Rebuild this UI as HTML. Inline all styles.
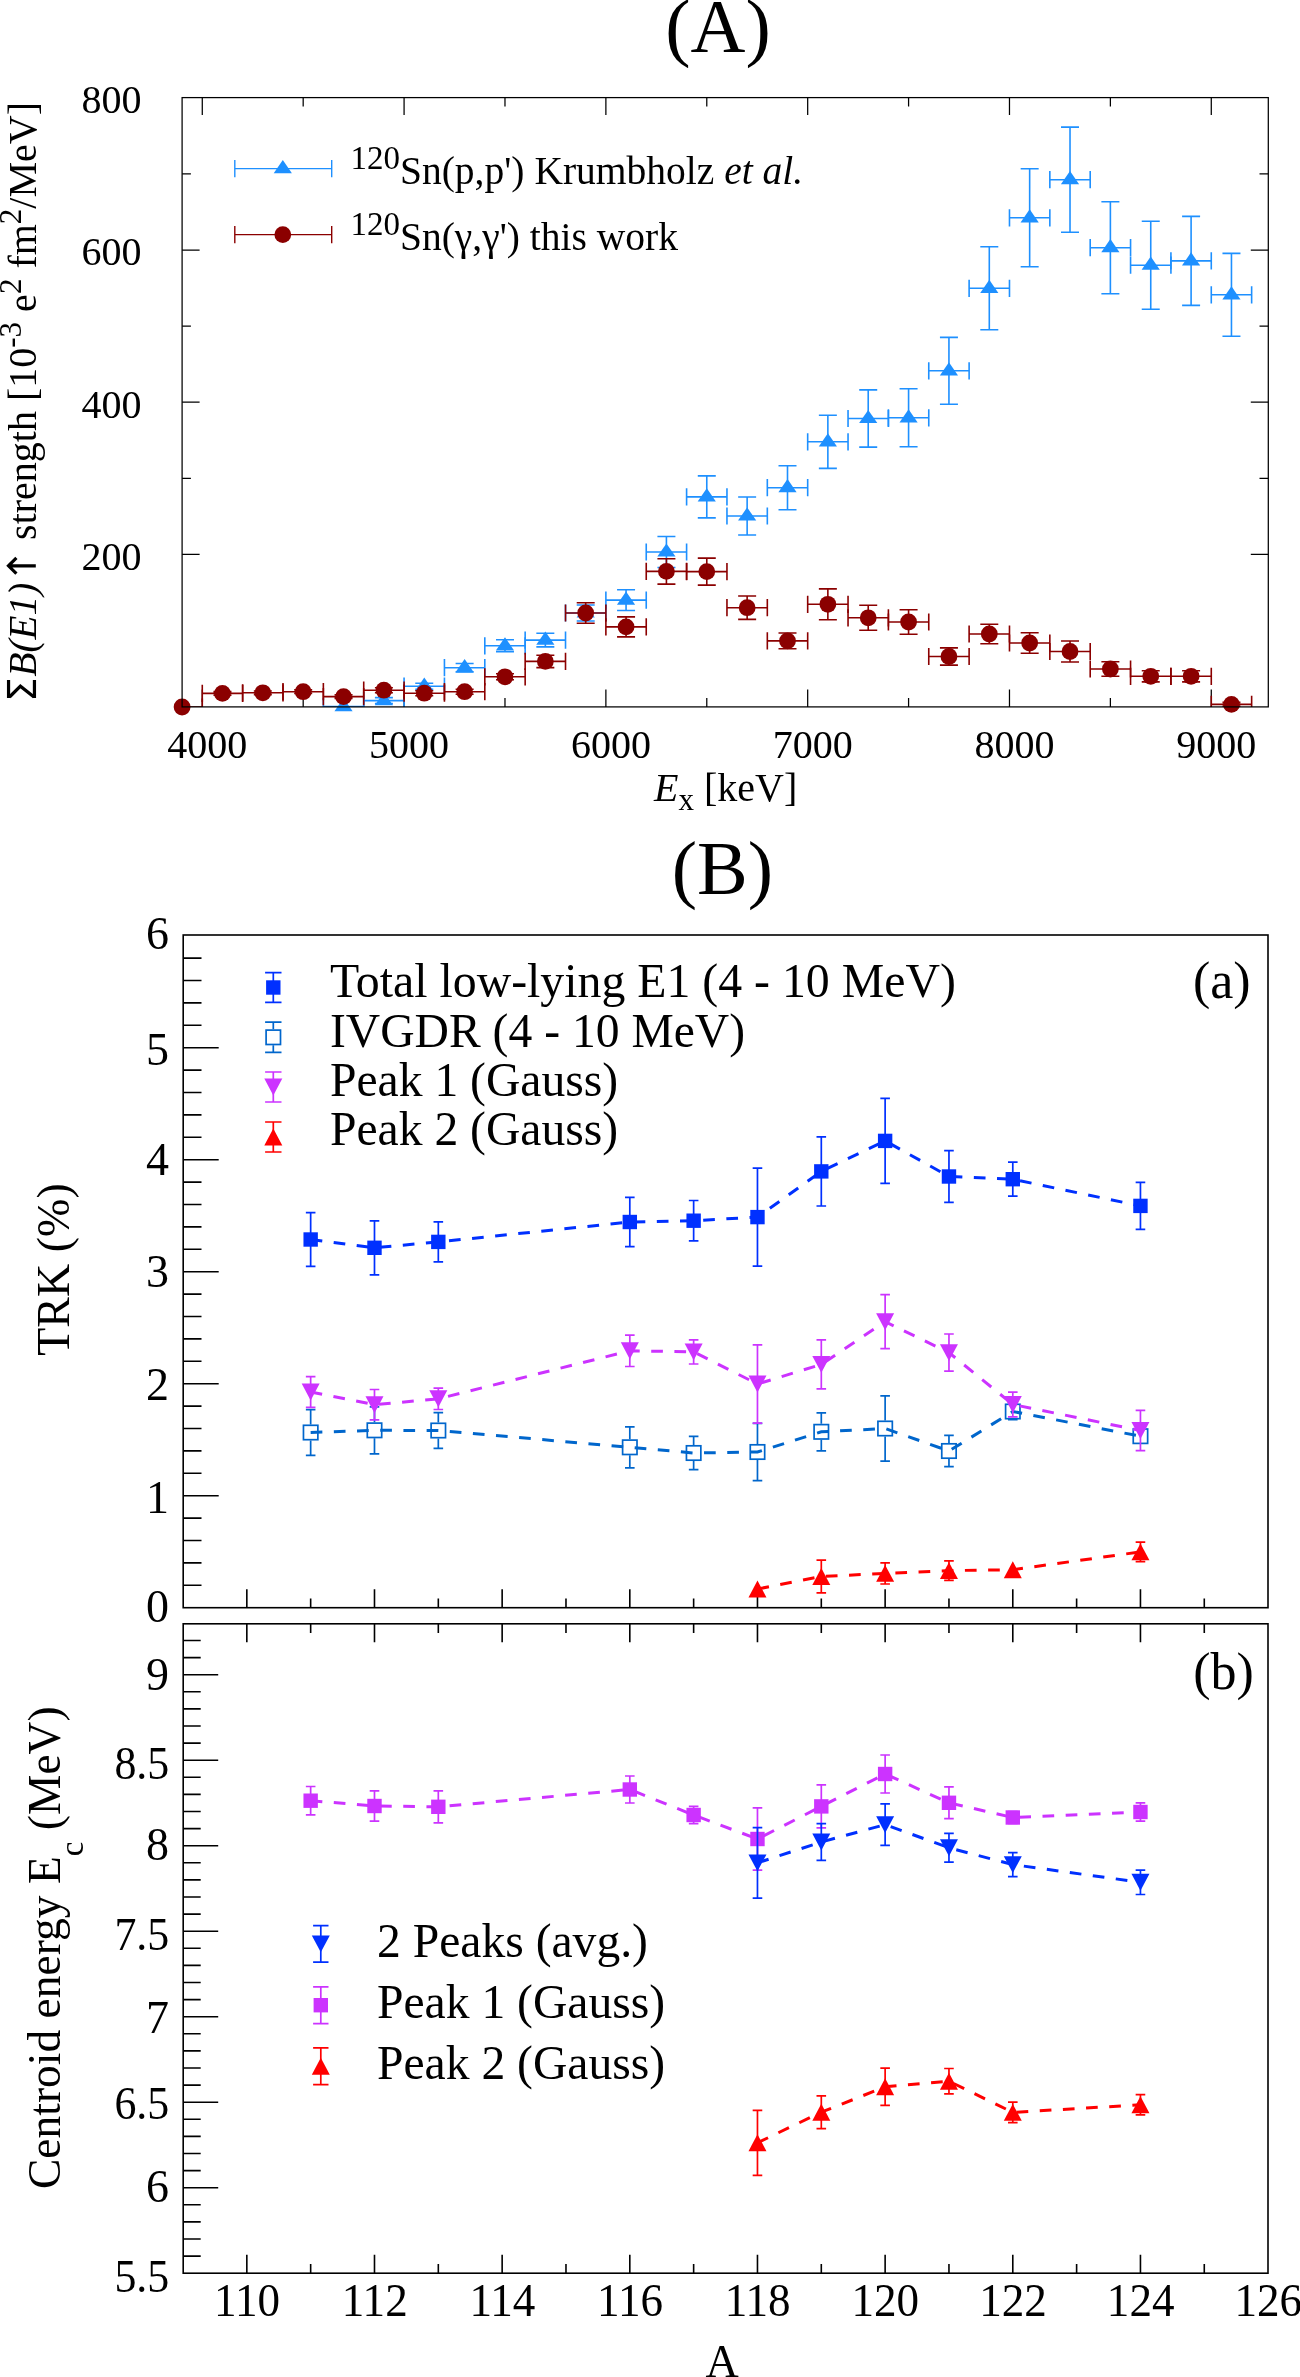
<!DOCTYPE html>
<html><head><meta charset="utf-8"><title>Figure</title>
<style>html,body{margin:0;padding:0;background:#fff;}svg{display:block;will-change:transform;}text{font-family:"Liberation Serif", serif;fill:#000;}</style>
</head><body>
<svg width="1300" height="2377" viewBox="0 0 1300 2377">
<rect width="1300" height="2377" fill="#fff"/>
<path d="M202.28 706.9V689.4M202.28 97.6V115.1M303.18 706.9V698.1M303.18 97.6V106.4M404.08 706.9V689.4M404.08 97.6V115.1M504.98 706.9V698.1M504.98 97.6V106.4M605.88 706.9V689.4M605.88 97.6V115.1M706.78 706.9V698.1M706.78 97.6V106.4M807.68 706.9V689.4M807.68 97.6V115.1M908.58 706.9V698.1M908.58 97.6V106.4M1009.48 706.9V689.4M1009.48 97.6V115.1M1110.38 706.9V698.1M1110.38 97.6V106.4M1211.28 706.9V689.4M1211.28 97.6V115.1M182.1 554.4H199.6M1268.3 554.4H1250.8M182.1 478.3H190.9M1268.3 478.3H1259.5M182.1 402.2H199.6M1268.3 402.2H1250.8M182.1 326.1H190.9M1268.3 326.1H1259.5M182.1 250H199.6M1268.3 250H1250.8M182.1 173.9H190.9M1268.3 173.9H1259.5" stroke="#000" stroke-width="1.25" fill="none"/>
<clipPath id="cA"><rect x="182.1" y="97.6" width="1086.2" height="609.3"/></clipPath>
<g clip-path="url(#cA)">
<g stroke="#1E90FF" stroke-width="1.6" fill="none">
<path d="M323.36 706.6H363.72M323.36 698V715.2M363.72 698V715.2"/>
</g>
<g stroke="#1E90FF" stroke-width="1.6" fill="none">
<path d="M363.72 700.6H404.08M363.72 692V709.2M404.08 692V709.2M383.9 697.6V703.6M374.9 697.6H392.9M374.9 703.6H392.9"/>
</g>
<g stroke="#1E90FF" stroke-width="1.6" fill="none">
<path d="M404.08 686.2H444.44M404.08 677.6V694.8M444.44 677.6V694.8M424.26 683.2V689.2M415.26 683.2H433.26M415.26 689.2H433.26"/>
</g>
<g stroke="#1E90FF" stroke-width="1.6" fill="none">
<path d="M444.44 667.7H484.8M444.44 659.1V676.3M484.8 659.1V676.3M464.62 663.5V671.9M455.62 663.5H473.62M455.62 671.9H473.62"/>
</g>
<g stroke="#1E90FF" stroke-width="1.6" fill="none">
<path d="M484.8 645.8H525.16M484.8 637.2V654.4M525.16 637.2V654.4M504.98 639.8V651.8M495.98 639.8H513.98M495.98 651.8H513.98"/>
</g>
<g stroke="#1E90FF" stroke-width="1.6" fill="none">
<path d="M525.16 640.1H565.52M525.16 631.5V648.7M565.52 631.5V648.7M545.34 633.3V646.9M536.34 633.3H554.34M536.34 646.9H554.34"/>
</g>
<g stroke="#1E90FF" stroke-width="1.6" fill="none">
<path d="M565.52 613H605.88M565.52 604.4V621.6M605.88 604.4V621.6M585.7 605V621M576.7 605H594.7M576.7 621H594.7"/>
</g>
<g stroke="#1E90FF" stroke-width="1.6" fill="none">
<path d="M605.88 600.1H646.24M605.88 591.5V608.7M646.24 591.5V608.7M626.06 589.7V610.5M617.06 589.7H635.06M617.06 610.5H635.06"/>
</g>
<g stroke="#1E90FF" stroke-width="1.6" fill="none">
<path d="M646.24 552H686.6M646.24 543.4V560.6M686.6 543.4V560.6M666.42 536.5V567.5M657.42 536.5H675.42M657.42 567.5H675.42"/>
</g>
<g stroke="#1E90FF" stroke-width="1.6" fill="none">
<path d="M686.6 496.9H726.96M686.6 488.3V505.5M726.96 488.3V505.5M706.78 475.9V517.9M697.78 475.9H715.78M697.78 517.9H715.78"/>
</g>
<g stroke="#1E90FF" stroke-width="1.6" fill="none">
<path d="M726.96 516H767.32M726.96 507.4V524.6M767.32 507.4V524.6M747.14 497V535M738.14 497H756.14M738.14 535H756.14"/>
</g>
<g stroke="#1E90FF" stroke-width="1.6" fill="none">
<path d="M767.32 487.7H807.68M767.32 479.1V496.3M807.68 479.1V496.3M787.5 465.7V509.7M778.5 465.7H796.5M778.5 509.7H796.5"/>
</g>
<g stroke="#1E90FF" stroke-width="1.6" fill="none">
<path d="M807.68 441.8H848.04M807.68 433.2V450.4M848.04 433.2V450.4M827.86 415.2V468.4M818.86 415.2H836.86M818.86 468.4H836.86"/>
</g>
<g stroke="#1E90FF" stroke-width="1.6" fill="none">
<path d="M848.04 418.5H888.4M848.04 409.9V427.1M888.4 409.9V427.1M868.22 389.9V447.1M859.22 389.9H877.22M859.22 447.1H877.22"/>
</g>
<g stroke="#1E90FF" stroke-width="1.6" fill="none">
<path d="M888.4 417.8H928.76M888.4 409.2V426.4M928.76 409.2V426.4M908.58 388.8V446.8M899.58 388.8H917.58M899.58 446.8H917.58"/>
</g>
<g stroke="#1E90FF" stroke-width="1.6" fill="none">
<path d="M928.76 370.8H969.12M928.76 362.2V379.4M969.12 362.2V379.4M948.94 337.4V404.2M939.94 337.4H957.94M939.94 404.2H957.94"/>
</g>
<g stroke="#1E90FF" stroke-width="1.6" fill="none">
<path d="M969.12 288.3H1009.48M969.12 279.7V296.9M1009.48 279.7V296.9M989.3 246.8V329.8M980.3 246.8H998.3M980.3 329.8H998.3"/>
</g>
<g stroke="#1E90FF" stroke-width="1.6" fill="none">
<path d="M1009.48 217.8H1049.84M1009.48 209.2V226.4M1049.84 209.2V226.4M1029.66 168.8V266.8M1020.66 168.8H1038.66M1020.66 266.8H1038.66"/>
</g>
<g stroke="#1E90FF" stroke-width="1.6" fill="none">
<path d="M1049.84 179.7H1090.2M1049.84 171.1V188.3M1090.2 171.1V188.3M1070.02 127.1V232.3M1061.02 127.1H1079.02M1061.02 232.3H1079.02"/>
</g>
<g stroke="#1E90FF" stroke-width="1.6" fill="none">
<path d="M1090.2 247.7H1130.56M1090.2 239.1V256.3M1130.56 239.1V256.3M1110.38 201.7V293.7M1101.38 201.7H1119.38M1101.38 293.7H1119.38"/>
</g>
<g stroke="#1E90FF" stroke-width="1.6" fill="none">
<path d="M1130.56 265.2H1170.92M1130.56 256.6V273.8M1170.92 256.6V273.8M1150.74 221.2V309.2M1141.74 221.2H1159.74M1141.74 309.2H1159.74"/>
</g>
<g stroke="#1E90FF" stroke-width="1.6" fill="none">
<path d="M1170.92 260.9H1211.28M1170.92 252.3V269.5M1211.28 252.3V269.5M1191.1 216.4V305.4M1182.1 216.4H1200.1M1182.1 305.4H1200.1"/>
</g>
<g stroke="#1E90FF" stroke-width="1.6" fill="none">
<path d="M1211.28 294.8H1251.64M1211.28 286.2V303.4M1251.64 286.2V303.4M1231.46 253.4V336.2M1222.46 253.4H1240.46M1222.46 336.2H1240.46"/>
</g>
</g>
<path d="M343.54 698L352.64 711.2L334.44 711.2Z" fill="#1E90FF"/>
<path d="M383.9 692L393 705.2L374.8 705.2Z" fill="#1E90FF"/>
<path d="M424.26 677.6L433.36 690.8L415.16 690.8Z" fill="#1E90FF"/>
<path d="M464.62 659.1L473.72 672.3L455.52 672.3Z" fill="#1E90FF"/>
<path d="M504.98 637.2L514.08 650.4L495.88 650.4Z" fill="#1E90FF"/>
<path d="M545.34 631.5L554.44 644.7L536.24 644.7Z" fill="#1E90FF"/>
<path d="M585.7 604.4L594.8 617.6L576.6 617.6Z" fill="#1E90FF"/>
<path d="M626.06 591.5L635.16 604.7L616.96 604.7Z" fill="#1E90FF"/>
<path d="M666.42 543.4L675.52 556.6L657.32 556.6Z" fill="#1E90FF"/>
<path d="M706.78 488.3L715.88 501.5L697.68 501.5Z" fill="#1E90FF"/>
<path d="M747.14 507.4L756.24 520.6L738.04 520.6Z" fill="#1E90FF"/>
<path d="M787.5 479.1L796.6 492.3L778.4 492.3Z" fill="#1E90FF"/>
<path d="M827.86 433.2L836.96 446.4L818.76 446.4Z" fill="#1E90FF"/>
<path d="M868.22 409.9L877.32 423.1L859.12 423.1Z" fill="#1E90FF"/>
<path d="M908.58 409.2L917.68 422.4L899.48 422.4Z" fill="#1E90FF"/>
<path d="M948.94 362.2L958.04 375.4L939.84 375.4Z" fill="#1E90FF"/>
<path d="M989.3 279.7L998.4 292.9L980.2 292.9Z" fill="#1E90FF"/>
<path d="M1029.66 209.2L1038.76 222.4L1020.56 222.4Z" fill="#1E90FF"/>
<path d="M1070.02 171.1L1079.12 184.3L1060.92 184.3Z" fill="#1E90FF"/>
<path d="M1110.38 239.1L1119.48 252.3L1101.28 252.3Z" fill="#1E90FF"/>
<path d="M1150.74 256.6L1159.84 269.8L1141.64 269.8Z" fill="#1E90FF"/>
<path d="M1191.1 252.3L1200.2 265.5L1182 265.5Z" fill="#1E90FF"/>
<path d="M1231.46 286.2L1240.56 299.4L1222.36 299.4Z" fill="#1E90FF"/>
<g clip-path="url(#cA)">
<g stroke="#8B0000" stroke-width="1.6" fill="none">
<path d="M161.92 707H202.28M161.92 698.4V715.6M202.28 698.4V715.6"/>
</g>
<g stroke="#8B0000" stroke-width="1.6" fill="none">
<path d="M202.28 693.4H242.64M202.28 684.8V702M242.64 684.8V702M222.46 691.6V695.2M213.46 691.6H231.46M213.46 695.2H231.46"/>
</g>
<g stroke="#8B0000" stroke-width="1.6" fill="none">
<path d="M242.64 692.8H283M242.64 684.2V701.4M283 684.2V701.4M262.82 691V694.6M253.82 691H271.82M253.82 694.6H271.82"/>
</g>
<g stroke="#8B0000" stroke-width="1.6" fill="none">
<path d="M283 691.7H323.36M283 683.1V700.3M323.36 683.1V700.3M303.18 689.9V693.5M294.18 689.9H312.18M294.18 693.5H312.18"/>
</g>
<g stroke="#8B0000" stroke-width="1.6" fill="none">
<path d="M323.36 696.6H363.72M323.36 688V705.2M363.72 688V705.2M343.54 694.8V698.4M334.54 694.8H352.54M334.54 698.4H352.54"/>
</g>
<g stroke="#8B0000" stroke-width="1.6" fill="none">
<path d="M363.72 690.2H404.08M363.72 681.6V698.8M404.08 681.6V698.8M383.9 687.7V692.7M374.9 687.7H392.9M374.9 692.7H392.9"/>
</g>
<g stroke="#8B0000" stroke-width="1.6" fill="none">
<path d="M404.08 693.2H444.44M404.08 684.6V701.8M444.44 684.6V701.8M424.26 690.7V695.7M415.26 690.7H433.26M415.26 695.7H433.26"/>
</g>
<g stroke="#8B0000" stroke-width="1.6" fill="none">
<path d="M444.44 691.7H484.8M444.44 683.1V700.3M484.8 683.1V700.3M464.62 689.2V694.2M455.62 689.2H473.62M455.62 694.2H473.62"/>
</g>
<g stroke="#8B0000" stroke-width="1.6" fill="none">
<path d="M484.8 676.8H525.16M484.8 668.2V685.4M525.16 668.2V685.4M504.98 673.8V679.8M495.98 673.8H513.98M495.98 679.8H513.98"/>
</g>
<g stroke="#8B0000" stroke-width="1.6" fill="none">
<path d="M525.16 661.4H565.52M525.16 652.8V670M565.52 652.8V670M545.34 655.2V667.6M536.34 655.2H554.34M536.34 667.6H554.34"/>
</g>
<g stroke="#8B0000" stroke-width="1.6" fill="none">
<path d="M565.52 613H605.88M565.52 604.4V621.6M605.88 604.4V621.6M585.7 602.7V623.3M576.7 602.7H594.7M576.7 623.3H594.7"/>
</g>
<g stroke="#8B0000" stroke-width="1.6" fill="none">
<path d="M605.88 626.9H646.24M605.88 618.3V635.5M646.24 618.3V635.5M626.06 616.9V636.9M617.06 616.9H635.06M617.06 636.9H635.06"/>
</g>
<g stroke="#8B0000" stroke-width="1.6" fill="none">
<path d="M646.24 571.4H686.6M646.24 562.8V580M686.6 562.8V580M666.42 558.7V584.1M657.42 558.7H675.42M657.42 584.1H675.42"/>
</g>
<g stroke="#8B0000" stroke-width="1.6" fill="none">
<path d="M686.6 571.6H726.96M686.6 563V580.2M726.96 563V580.2M706.78 558.1V585.1M697.78 558.1H715.78M697.78 585.1H715.78"/>
</g>
<g stroke="#8B0000" stroke-width="1.6" fill="none">
<path d="M726.96 607.7H767.32M726.96 599.1V616.3M767.32 599.1V616.3M747.14 596V619.4M738.14 596H756.14M738.14 619.4H756.14"/>
</g>
<g stroke="#8B0000" stroke-width="1.6" fill="none">
<path d="M767.32 640.9H807.68M767.32 632.3V649.5M807.68 632.3V649.5M787.5 633V648.8M778.5 633H796.5M778.5 648.8H796.5"/>
</g>
<g stroke="#8B0000" stroke-width="1.6" fill="none">
<path d="M807.68 604.3H848.04M807.68 595.7V612.9M848.04 595.7V612.9M827.86 588.9V619.7M818.86 588.9H836.86M818.86 619.7H836.86"/>
</g>
<g stroke="#8B0000" stroke-width="1.6" fill="none">
<path d="M848.04 617.8H888.4M848.04 609.2V626.4M888.4 609.2V626.4M868.22 605.3V630.3M859.22 605.3H877.22M859.22 630.3H877.22"/>
</g>
<g stroke="#8B0000" stroke-width="1.6" fill="none">
<path d="M888.4 622H928.76M888.4 613.4V630.6M928.76 613.4V630.6M908.58 609.7V634.3M899.58 609.7H917.58M899.58 634.3H917.58"/>
</g>
<g stroke="#8B0000" stroke-width="1.6" fill="none">
<path d="M928.76 656.5H969.12M928.76 647.9V665.1M969.12 647.9V665.1M948.94 647.9V665.1M939.94 647.9H957.94M939.94 665.1H957.94"/>
</g>
<g stroke="#8B0000" stroke-width="1.6" fill="none">
<path d="M969.12 634H1009.48M969.12 625.4V642.6M1009.48 625.4V642.6M989.3 624.3V643.7M980.3 624.3H998.3M980.3 643.7H998.3"/>
</g>
<g stroke="#8B0000" stroke-width="1.6" fill="none">
<path d="M1009.48 643H1049.84M1009.48 634.4V651.6M1049.84 634.4V651.6M1029.66 632.8V653.2M1020.66 632.8H1038.66M1020.66 653.2H1038.66"/>
</g>
<g stroke="#8B0000" stroke-width="1.6" fill="none">
<path d="M1049.84 651.5H1090.2M1049.84 642.9V660.1M1090.2 642.9V660.1M1070.02 641V662M1061.02 641H1079.02M1061.02 662H1079.02"/>
</g>
<g stroke="#8B0000" stroke-width="1.6" fill="none">
<path d="M1090.2 669H1130.56M1090.2 660.4V677.6M1130.56 660.4V677.6M1110.38 661.8V676.2M1101.38 661.8H1119.38M1101.38 676.2H1119.38"/>
</g>
<g stroke="#8B0000" stroke-width="1.6" fill="none">
<path d="M1130.56 676.3H1170.92M1130.56 667.7V684.9M1170.92 667.7V684.9M1150.74 670.7V681.9M1141.74 670.7H1159.74M1141.74 681.9H1159.74"/>
</g>
<g stroke="#8B0000" stroke-width="1.6" fill="none">
<path d="M1170.92 676.3H1211.28M1170.92 667.7V684.9M1211.28 667.7V684.9M1191.1 670.7V681.9M1182.1 670.7H1200.1M1182.1 681.9H1200.1"/>
</g>
<g stroke="#8B0000" stroke-width="1.6" fill="none">
<path d="M1211.28 704.4H1251.64M1211.28 695.8V713M1251.64 695.8V713M1231.46 702.4V706.4M1222.46 702.4H1240.46M1222.46 706.4H1240.46"/>
</g>
</g>
<circle cx="182.1" cy="707" r="8.4" fill="#8B0000"/>
<circle cx="222.46" cy="693.4" r="8.4" fill="#8B0000"/>
<circle cx="262.82" cy="692.8" r="8.4" fill="#8B0000"/>
<circle cx="303.18" cy="691.7" r="8.4" fill="#8B0000"/>
<circle cx="343.54" cy="696.6" r="8.4" fill="#8B0000"/>
<circle cx="383.9" cy="690.2" r="8.4" fill="#8B0000"/>
<circle cx="424.26" cy="693.2" r="8.4" fill="#8B0000"/>
<circle cx="464.62" cy="691.7" r="8.4" fill="#8B0000"/>
<circle cx="504.98" cy="676.8" r="8.4" fill="#8B0000"/>
<circle cx="545.34" cy="661.4" r="8.4" fill="#8B0000"/>
<circle cx="585.7" cy="613" r="8.4" fill="#8B0000"/>
<circle cx="626.06" cy="626.9" r="8.4" fill="#8B0000"/>
<circle cx="666.42" cy="571.4" r="8.4" fill="#8B0000"/>
<circle cx="706.78" cy="571.6" r="8.4" fill="#8B0000"/>
<circle cx="747.14" cy="607.7" r="8.4" fill="#8B0000"/>
<circle cx="787.5" cy="640.9" r="8.4" fill="#8B0000"/>
<circle cx="827.86" cy="604.3" r="8.4" fill="#8B0000"/>
<circle cx="868.22" cy="617.8" r="8.4" fill="#8B0000"/>
<circle cx="908.58" cy="622" r="8.4" fill="#8B0000"/>
<circle cx="948.94" cy="656.5" r="8.4" fill="#8B0000"/>
<circle cx="989.3" cy="634" r="8.4" fill="#8B0000"/>
<circle cx="1029.66" cy="643" r="8.4" fill="#8B0000"/>
<circle cx="1070.02" cy="651.5" r="8.4" fill="#8B0000"/>
<circle cx="1110.38" cy="669" r="8.4" fill="#8B0000"/>
<circle cx="1150.74" cy="676.3" r="8.4" fill="#8B0000"/>
<circle cx="1191.1" cy="676.3" r="8.4" fill="#8B0000"/>
<circle cx="1231.46" cy="704.4" r="8.4" fill="#8B0000"/>
<rect x="182.1" y="97.6" width="1086.2" height="609.3" fill="none" stroke="#000" stroke-width="1.25"/>
<text x="207.28" y="757.5" font-size="40" text-anchor="middle" font-family='"Liberation Serif", serif' >4000</text>
<text x="409.08" y="757.5" font-size="40" text-anchor="middle" font-family='"Liberation Serif", serif' >5000</text>
<text x="610.88" y="757.5" font-size="40" text-anchor="middle" font-family='"Liberation Serif", serif' >6000</text>
<text x="812.68" y="757.5" font-size="40" text-anchor="middle" font-family='"Liberation Serif", serif' >7000</text>
<text x="1014.48" y="757.5" font-size="40" text-anchor="middle" font-family='"Liberation Serif", serif' >8000</text>
<text x="1216.28" y="757.5" font-size="40" text-anchor="middle" font-family='"Liberation Serif", serif' >9000</text>
<text x="141.5" y="569.7" font-size="40" text-anchor="end" font-family='"Liberation Serif", serif' >200</text>
<text x="141.5" y="417.5" font-size="40" text-anchor="end" font-family='"Liberation Serif", serif' >400</text>
<text x="141.5" y="265.3" font-size="40" text-anchor="end" font-family='"Liberation Serif", serif' >600</text>
<text x="141.5" y="113.1" font-size="40" text-anchor="end" font-family='"Liberation Serif", serif' >800</text>
<path d="M234.8 168.6H331.7M234.8 160V177.2M331.7 160V177.2" stroke="#1E90FF" stroke-width="1.4" fill="none"/>
<path d="M282.8 160L291.9 173.2L273.7 173.2Z" fill="#1E90FF"/>
<path d="M234.8 234.6H331.7M234.8 226V243.2M331.7 226V243.2" stroke="#8B0000" stroke-width="1.4" fill="none"/>
<circle cx="282.8" cy="234.6" r="8.4" fill="#8B0000"/>
<text x="350.5" y="183.5" font-family='"Liberation Serif", serif' font-size="39.5"><tspan font-size="33" dy="-14.7">120</tspan><tspan dy="14.7">Sn(p,p') Krumbholz </tspan><tspan font-style="italic">et al.</tspan></text>
<text x="350.5" y="249.5" font-family='"Liberation Serif", serif' font-size="39.5"><tspan font-size="33" dy="-14.7">120</tspan><tspan dy="14.7">Sn(γ,γ') this work</tspan></text>
<text x="654" y="800.6" font-family='"Liberation Serif", serif' font-size="40"><tspan font-style="italic">E</tspan><tspan font-size="31" dy="9">x</tspan><tspan dy="-9"> [keV]</tspan></text>
<path d="M8.55 680V698.1M34.45 680V698.1" stroke="#000" stroke-width="3.2" fill="none"/>
<path d="M9.5 697L20.4 686.2L34 697" stroke="#000" stroke-width="3.3" fill="none" stroke-linejoin="miter"/>
<text transform="translate(35.9,676.5) rotate(-90)" font-family='"Liberation Serif", serif' font-size="39.3" font-style="italic">B(E1)</text>
<path d="M35.8 565.8H8.5M16.4 557.9L8.5 565.8L16.4 573.7" stroke="#000" stroke-width="3.2" fill="none"/>
<text transform="translate(35.9,539.9) rotate(-90)" font-family='"Liberation Serif", serif' font-size="40">strength [10<tspan font-size="31" dy="-14.7">-3</tspan><tspan dy="14.7"> e</tspan><tspan font-size="31" dy="-14.7">2</tspan><tspan dy="14.7"> fm</tspan><tspan font-size="31" dy="-14.7">2</tspan><tspan dy="14.7">/MeV]</tspan></text>
<text x="665.3" y="52" font-size="76" text-anchor="start" font-family='"Liberation Serif", serif' >(A)</text>
<text x="671.8" y="893.7" font-size="76" text-anchor="start" font-family='"Liberation Serif", serif' >(B)</text>
<path d="M246.83 1607.7V1589.2M246.83 1623.8V1642.3M246.83 2273.2V2254.7M310.66 1607.7V1598.5M310.66 1623.8V1633M310.66 2273.2V2264M374.49 1607.7V1589.2M374.49 1623.8V1642.3M374.49 2273.2V2254.7M438.32 1607.7V1598.5M438.32 1623.8V1633M438.32 2273.2V2264M502.15 1607.7V1589.2M502.15 1623.8V1642.3M502.15 2273.2V2254.7M565.98 1607.7V1598.5M565.98 1623.8V1633M565.98 2273.2V2264M629.81 1607.7V1589.2M629.81 1623.8V1642.3M629.81 2273.2V2254.7M693.64 1607.7V1598.5M693.64 1623.8V1633M693.64 2273.2V2264M757.47 1607.7V1589.2M757.47 1623.8V1642.3M757.47 2273.2V2254.7M821.3 1607.7V1598.5M821.3 1623.8V1633M821.3 2273.2V2264M885.13 1607.7V1589.2M885.13 1623.8V1642.3M885.13 2273.2V2254.7M948.96 1607.7V1598.5M948.96 1623.8V1633M948.96 2273.2V2264M1012.79 1607.7V1589.2M1012.79 1623.8V1642.3M1012.79 2273.2V2254.7M1076.62 1607.7V1598.5M1076.62 1623.8V1633M1076.62 2273.2V2264M1140.45 1607.7V1589.2M1140.45 1623.8V1642.3M1140.45 2273.2V2254.7M1204.28 1607.7V1598.5M1204.28 1623.8V1633M1204.28 2273.2V2264M183.2 1585.3H201.5M183.2 1562.9H201.5M183.2 1540.5H201.5M183.2 1518.1H201.5M183.2 1495.7H218.7M183.2 1473.3H201.5M183.2 1450.9H201.5M183.2 1428.5H201.5M183.2 1406.1H201.5M183.2 1383.7H218.7M183.2 1361.3H201.5M183.2 1338.9H201.5M183.2 1316.5H201.5M183.2 1294.1H201.5M183.2 1271.7H218.7M183.2 1249.3H201.5M183.2 1226.9H201.5M183.2 1204.5H201.5M183.2 1182.1H201.5M183.2 1159.7H218.7M183.2 1137.3H201.5M183.2 1114.9H201.5M183.2 1092.5H201.5M183.2 1070.1H201.5M183.2 1047.7H218.7M183.2 1025.3H201.5M183.2 1002.9H201.5M183.2 980.5H201.5M183.2 958.1H201.5M183.2 2256.1H200.7M183.2 2239H200.7M183.2 2221.9H200.7M183.2 2204.8H200.7M183.2 2187.7H218.2M183.2 2170.6H200.7M183.2 2153.5H200.7M183.2 2136.4H200.7M183.2 2119.3H200.7M183.2 2102.2H218.2M183.2 2085.1H200.7M183.2 2068H200.7M183.2 2050.9H200.7M183.2 2033.8H200.7M183.2 2016.7H218.2M183.2 1999.6H200.7M183.2 1982.5H200.7M183.2 1965.4H200.7M183.2 1948.3H200.7M183.2 1931.2H218.2M183.2 1914.1H200.7M183.2 1897H200.7M183.2 1879.9H200.7M183.2 1862.8H200.7M183.2 1845.7H218.2M183.2 1828.6H200.7M183.2 1811.5H200.7M183.2 1794.4H200.7M183.2 1777.3H200.7M183.2 1760.2H218.2M183.2 1743.1H200.7M183.2 1726H200.7M183.2 1708.9H200.7M183.2 1691.8H200.7M183.2 1674.7H218.2M183.2 1657.6H200.7M183.2 1640.5H200.7" stroke="#000" stroke-width="1.6" fill="none"/>
<path d="M310.66 1239.5L374.49 1247.8L438.32 1241.9L629.81 1222L693.64 1220.7L757.47 1217.1L821.3 1171.4L885.13 1140.9L948.96 1176.5L1012.79 1179.2L1140.45 1205.9" stroke="#0030FF" stroke-width="3" fill="none" stroke-dasharray="11.7 11.5" stroke-dashoffset="0"/>
<path d="M310.66 1212.7V1266.3M305.86 1212.7H315.46M305.86 1266.3H315.46" stroke="#0030FF" stroke-width="1.7" fill="none"/>
<path d="M374.49 1220.8V1274.8M369.69 1220.8H379.29M369.69 1274.8H379.29" stroke="#0030FF" stroke-width="1.7" fill="none"/>
<path d="M438.32 1221.9V1261.9M433.52 1221.9H443.12M433.52 1261.9H443.12" stroke="#0030FF" stroke-width="1.7" fill="none"/>
<path d="M629.81 1197.3V1246.7M625.01 1197.3H634.61M625.01 1246.7H634.61" stroke="#0030FF" stroke-width="1.7" fill="none"/>
<path d="M693.64 1200.5V1240.9M688.84 1200.5H698.44M688.84 1240.9H698.44" stroke="#0030FF" stroke-width="1.7" fill="none"/>
<path d="M757.47 1168.1V1266.1M752.67 1168.1H762.27M752.67 1266.1H762.27" stroke="#0030FF" stroke-width="1.7" fill="none"/>
<path d="M821.3 1136.8V1206M816.5 1136.8H826.1M816.5 1206H826.1" stroke="#0030FF" stroke-width="1.7" fill="none"/>
<path d="M885.13 1098.4V1183.4M880.33 1098.4H889.93M880.33 1183.4H889.93" stroke="#0030FF" stroke-width="1.7" fill="none"/>
<path d="M948.96 1150.6V1202.4M944.16 1150.6H953.76M944.16 1202.4H953.76" stroke="#0030FF" stroke-width="1.7" fill="none"/>
<path d="M1012.79 1162.2V1196.2M1007.99 1162.2H1017.59M1007.99 1196.2H1017.59" stroke="#0030FF" stroke-width="1.7" fill="none"/>
<path d="M1140.45 1182.4V1229.4M1135.65 1182.4H1145.25M1135.65 1229.4H1145.25" stroke="#0030FF" stroke-width="1.7" fill="none"/>
<rect x="303.46" y="1232.3" width="14.4" height="14.4" fill="#0030FF"/>
<rect x="367.29" y="1240.6" width="14.4" height="14.4" fill="#0030FF"/>
<rect x="431.12" y="1234.7" width="14.4" height="14.4" fill="#0030FF"/>
<rect x="622.61" y="1214.8" width="14.4" height="14.4" fill="#0030FF"/>
<rect x="686.44" y="1213.5" width="14.4" height="14.4" fill="#0030FF"/>
<rect x="750.27" y="1209.9" width="14.4" height="14.4" fill="#0030FF"/>
<rect x="814.1" y="1164.2" width="14.4" height="14.4" fill="#0030FF"/>
<rect x="877.93" y="1133.7" width="14.4" height="14.4" fill="#0030FF"/>
<rect x="941.76" y="1169.3" width="14.4" height="14.4" fill="#0030FF"/>
<rect x="1005.59" y="1172" width="14.4" height="14.4" fill="#0030FF"/>
<rect x="1133.25" y="1198.7" width="14.4" height="14.4" fill="#0030FF"/>
<path d="M310.66 1432.5L374.49 1430.3L438.32 1430.5L629.81 1447.3L693.64 1453L757.47 1452L821.3 1431.8L885.13 1428.5L948.96 1451L1012.79 1411.5L1140.45 1436.2" stroke="#0066CC" stroke-width="3" fill="none" stroke-dasharray="11.7 11.5" stroke-dashoffset="0"/>
<path d="M310.66 1409.6V1424.5M310.66 1440.5V1455.4M305.86 1409.6H315.46M305.86 1455.4H315.46" stroke="#0066CC" stroke-width="1.7" fill="none"/>
<path d="M374.49 1406.8V1422.3M374.49 1438.3V1453.8M369.69 1406.8H379.29M369.69 1453.8H379.29" stroke="#0066CC" stroke-width="1.7" fill="none"/>
<path d="M438.32 1412.6V1422.5M438.32 1438.5V1448.4M433.52 1412.6H443.12M433.52 1448.4H443.12" stroke="#0066CC" stroke-width="1.7" fill="none"/>
<path d="M629.81 1426.8V1439.3M629.81 1455.3V1467.8M625.01 1426.8H634.61M625.01 1467.8H634.61" stroke="#0066CC" stroke-width="1.7" fill="none"/>
<path d="M693.64 1436.3V1445M693.64 1461V1469.7M688.84 1436.3H698.44M688.84 1469.7H698.44" stroke="#0066CC" stroke-width="1.7" fill="none"/>
<path d="M757.47 1423.3V1444M757.47 1460V1480.7M752.67 1423.3H762.27M752.67 1480.7H762.27" stroke="#0066CC" stroke-width="1.7" fill="none"/>
<path d="M821.3 1412.8V1423.8M821.3 1439.8V1450.8M816.5 1412.8H826.1M816.5 1450.8H826.1" stroke="#0066CC" stroke-width="1.7" fill="none"/>
<path d="M885.13 1395.9V1420.5M885.13 1436.5V1461.1M880.33 1395.9H889.93M880.33 1461.1H889.93" stroke="#0066CC" stroke-width="1.7" fill="none"/>
<path d="M948.96 1435.4V1443M948.96 1459V1466.6M944.16 1435.4H953.76M944.16 1466.6H953.76" stroke="#0066CC" stroke-width="1.7" fill="none"/>
<path d="M1012.79 1403.3V1403.5M1012.79 1419.5V1419.7M1007.99 1403.3H1017.59M1007.99 1419.7H1017.59" stroke="#0066CC" stroke-width="1.7" fill="none"/>
<rect x="303.46" y="1425.3" width="14.4" height="14.4" fill="none" stroke="#0066CC" stroke-width="1.7"/>
<rect x="367.29" y="1423.1" width="14.4" height="14.4" fill="none" stroke="#0066CC" stroke-width="1.7"/>
<rect x="431.12" y="1423.3" width="14.4" height="14.4" fill="none" stroke="#0066CC" stroke-width="1.7"/>
<rect x="622.61" y="1440.1" width="14.4" height="14.4" fill="none" stroke="#0066CC" stroke-width="1.7"/>
<rect x="686.44" y="1445.8" width="14.4" height="14.4" fill="none" stroke="#0066CC" stroke-width="1.7"/>
<rect x="750.27" y="1444.8" width="14.4" height="14.4" fill="none" stroke="#0066CC" stroke-width="1.7"/>
<rect x="814.1" y="1424.6" width="14.4" height="14.4" fill="none" stroke="#0066CC" stroke-width="1.7"/>
<rect x="877.93" y="1421.3" width="14.4" height="14.4" fill="none" stroke="#0066CC" stroke-width="1.7"/>
<rect x="941.76" y="1443.8" width="14.4" height="14.4" fill="none" stroke="#0066CC" stroke-width="1.7"/>
<rect x="1005.59" y="1404.3" width="14.4" height="14.4" fill="none" stroke="#0066CC" stroke-width="1.7"/>
<rect x="1133.25" y="1429" width="14.4" height="14.4" fill="none" stroke="#0066CC" stroke-width="1.7"/>
<path d="M310.66 1392L374.49 1404.7L438.32 1398.8L629.81 1350.8L693.64 1351.9L757.47 1384L821.3 1364.4L885.13 1321.7L948.96 1352.6L1012.79 1404.5L1140.45 1430.5" stroke="#CC33FF" stroke-width="3" fill="none" stroke-dasharray="11.7 11.5" stroke-dashoffset="0"/>
<path d="M310.66 1376.6V1407.4M305.86 1376.6H315.46M305.86 1407.4H315.46" stroke="#CC33FF" stroke-width="1.7" fill="none"/>
<path d="M374.49 1389.5V1419.9M369.69 1389.5H379.29M369.69 1419.9H379.29" stroke="#CC33FF" stroke-width="1.7" fill="none"/>
<path d="M438.32 1388.1V1409.5M433.52 1388.1H443.12M433.52 1409.5H443.12" stroke="#CC33FF" stroke-width="1.7" fill="none"/>
<path d="M629.81 1335.1V1366.5M625.01 1335.1H634.61M625.01 1366.5H634.61" stroke="#CC33FF" stroke-width="1.7" fill="none"/>
<path d="M693.64 1339.8V1364M688.84 1339.8H698.44M688.84 1364H698.44" stroke="#CC33FF" stroke-width="1.7" fill="none"/>
<path d="M757.47 1344.9V1423.1M752.67 1344.9H762.27M752.67 1423.1H762.27" stroke="#CC33FF" stroke-width="1.7" fill="none"/>
<path d="M821.3 1339.9V1388.9M816.5 1339.9H826.1M816.5 1388.9H826.1" stroke="#CC33FF" stroke-width="1.7" fill="none"/>
<path d="M885.13 1294.7V1348.7M880.33 1294.7H889.93M880.33 1348.7H889.93" stroke="#CC33FF" stroke-width="1.7" fill="none"/>
<path d="M948.96 1334V1371.2M944.16 1334H953.76M944.16 1371.2H953.76" stroke="#CC33FF" stroke-width="1.7" fill="none"/>
<path d="M1012.79 1392.2V1416.8M1007.99 1392.2H1017.59M1007.99 1416.8H1017.59" stroke="#CC33FF" stroke-width="1.7" fill="none"/>
<path d="M1140.45 1410.4V1450.6M1135.65 1410.4H1145.25M1135.65 1450.6H1145.25" stroke="#CC33FF" stroke-width="1.7" fill="none"/>
<path d="M301.66 1383.55H319.66L310.66 1400.45Z" fill="#CC33FF"/>
<path d="M365.49 1396.25H383.49L374.49 1413.15Z" fill="#CC33FF"/>
<path d="M429.32 1390.35H447.32L438.32 1407.25Z" fill="#CC33FF"/>
<path d="M620.81 1342.35H638.81L629.81 1359.25Z" fill="#CC33FF"/>
<path d="M684.64 1343.45H702.64L693.64 1360.35Z" fill="#CC33FF"/>
<path d="M748.47 1375.55H766.47L757.47 1392.45Z" fill="#CC33FF"/>
<path d="M812.3 1355.95H830.3L821.3 1372.85Z" fill="#CC33FF"/>
<path d="M876.13 1313.25H894.13L885.13 1330.15Z" fill="#CC33FF"/>
<path d="M939.96 1344.15H957.96L948.96 1361.05Z" fill="#CC33FF"/>
<path d="M1003.79 1396.05H1021.79L1012.79 1412.95Z" fill="#CC33FF"/>
<path d="M1131.45 1422.05H1149.45L1140.45 1438.95Z" fill="#CC33FF"/>
<path d="M757.47 1589L821.3 1576.5L885.13 1573.4L948.96 1570.6L1012.79 1569.7L1140.45 1551.9" stroke="#FF0000" stroke-width="3" fill="none" stroke-dasharray="11.7 11.5" stroke-dashoffset="0"/>
<path d="M821.3 1560.1V1592.9M816.5 1560.1H826.1M816.5 1592.9H826.1" stroke="#FF0000" stroke-width="1.7" fill="none"/>
<path d="M885.13 1562.8V1584M880.33 1562.8H889.93M880.33 1584H889.93" stroke="#FF0000" stroke-width="1.7" fill="none"/>
<path d="M948.96 1560.8V1580.4M944.16 1560.8H953.76M944.16 1580.4H953.76" stroke="#FF0000" stroke-width="1.7" fill="none"/>
<path d="M1140.45 1542.2V1561.6M1135.65 1542.2H1145.25M1135.65 1561.6H1145.25" stroke="#FF0000" stroke-width="1.7" fill="none"/>
<path d="M748.47 1597.45H766.47L757.47 1580.55Z" fill="#FF0000"/>
<path d="M812.3 1584.95H830.3L821.3 1568.05Z" fill="#FF0000"/>
<path d="M876.13 1581.85H894.13L885.13 1564.95Z" fill="#FF0000"/>
<path d="M939.96 1579.05H957.96L948.96 1562.15Z" fill="#FF0000"/>
<path d="M1003.79 1578.15H1021.79L1012.79 1561.25Z" fill="#FF0000"/>
<path d="M1131.45 1560.35H1149.45L1140.45 1543.45Z" fill="#FF0000"/>
<path d="M310.66 1800.7L374.49 1806L438.32 1806.8L629.81 1789.5L693.64 1815L757.47 1839L821.3 1806.4L885.13 1774L948.96 1802.8L1012.79 1817.5L1140.45 1812" stroke="#CC33FF" stroke-width="3" fill="none" stroke-dasharray="11.7 11.5" stroke-dashoffset="0"/>
<path d="M310.66 1786.5V1814.9M305.86 1786.5H315.46M305.86 1814.9H315.46" stroke="#CC33FF" stroke-width="1.7" fill="none"/>
<path d="M374.49 1790.8V1821.2M369.69 1790.8H379.29M369.69 1821.2H379.29" stroke="#CC33FF" stroke-width="1.7" fill="none"/>
<path d="M438.32 1790.8V1822.8M433.52 1790.8H443.12M433.52 1822.8H443.12" stroke="#CC33FF" stroke-width="1.7" fill="none"/>
<path d="M629.81 1776V1803M625.01 1776H634.61M625.01 1803H634.61" stroke="#CC33FF" stroke-width="1.7" fill="none"/>
<path d="M693.64 1806.3V1823.7M688.84 1806.3H698.44M688.84 1823.7H698.44" stroke="#CC33FF" stroke-width="1.7" fill="none"/>
<path d="M757.47 1807.9V1870.1M752.67 1807.9H762.27M752.67 1870.1H762.27" stroke="#CC33FF" stroke-width="1.7" fill="none"/>
<path d="M821.3 1784.9V1827.9M816.5 1784.9H826.1M816.5 1827.9H826.1" stroke="#CC33FF" stroke-width="1.7" fill="none"/>
<path d="M885.13 1755V1793M880.33 1755H889.93M880.33 1793H889.93" stroke="#CC33FF" stroke-width="1.7" fill="none"/>
<path d="M948.96 1786.9V1818.7M944.16 1786.9H953.76M944.16 1818.7H953.76" stroke="#CC33FF" stroke-width="1.7" fill="none"/>
<path d="M1012.79 1811.5V1823.5M1007.99 1811.5H1017.59M1007.99 1823.5H1017.59" stroke="#CC33FF" stroke-width="1.7" fill="none"/>
<path d="M1140.45 1802.9V1821.1M1135.65 1802.9H1145.25M1135.65 1821.1H1145.25" stroke="#CC33FF" stroke-width="1.7" fill="none"/>
<rect x="303.46" y="1793.5" width="14.4" height="14.4" fill="#CC33FF"/>
<rect x="367.29" y="1798.8" width="14.4" height="14.4" fill="#CC33FF"/>
<rect x="431.12" y="1799.6" width="14.4" height="14.4" fill="#CC33FF"/>
<rect x="622.61" y="1782.3" width="14.4" height="14.4" fill="#CC33FF"/>
<rect x="686.44" y="1807.8" width="14.4" height="14.4" fill="#CC33FF"/>
<rect x="750.27" y="1831.8" width="14.4" height="14.4" fill="#CC33FF"/>
<rect x="814.1" y="1799.2" width="14.4" height="14.4" fill="#CC33FF"/>
<rect x="877.93" y="1766.8" width="14.4" height="14.4" fill="#CC33FF"/>
<rect x="941.76" y="1795.6" width="14.4" height="14.4" fill="#CC33FF"/>
<rect x="1005.59" y="1810.3" width="14.4" height="14.4" fill="#CC33FF"/>
<rect x="1133.25" y="1804.8" width="14.4" height="14.4" fill="#CC33FF"/>
<path d="M757.47 1862.9L821.3 1842L885.13 1824.6L948.96 1847.8L1012.79 1864.6L1140.45 1882.3" stroke="#0030FF" stroke-width="3" fill="none" stroke-dasharray="11.7 11.5" stroke-dashoffset="0"/>
<path d="M757.47 1827.7V1898.1M752.67 1827.7H762.27M752.67 1898.1H762.27" stroke="#0030FF" stroke-width="1.7" fill="none"/>
<path d="M821.3 1823.6V1860.4M816.5 1823.6H826.1M816.5 1860.4H826.1" stroke="#0030FF" stroke-width="1.7" fill="none"/>
<path d="M885.13 1803.8V1845.4M880.33 1803.8H889.93M880.33 1845.4H889.93" stroke="#0030FF" stroke-width="1.7" fill="none"/>
<path d="M948.96 1833.4V1862.2M944.16 1833.4H953.76M944.16 1862.2H953.76" stroke="#0030FF" stroke-width="1.7" fill="none"/>
<path d="M1012.79 1852.6V1876.6M1007.99 1852.6H1017.59M1007.99 1876.6H1017.59" stroke="#0030FF" stroke-width="1.7" fill="none"/>
<path d="M1140.45 1870.1V1894.5M1135.65 1870.1H1145.25M1135.65 1894.5H1145.25" stroke="#0030FF" stroke-width="1.7" fill="none"/>
<path d="M748.47 1854.45H766.47L757.47 1871.35Z" fill="#0030FF"/>
<path d="M812.3 1833.55H830.3L821.3 1850.45Z" fill="#0030FF"/>
<path d="M876.13 1816.15H894.13L885.13 1833.05Z" fill="#0030FF"/>
<path d="M939.96 1839.35H957.96L948.96 1856.25Z" fill="#0030FF"/>
<path d="M1003.79 1856.15H1021.79L1012.79 1873.05Z" fill="#0030FF"/>
<path d="M1131.45 1873.85H1149.45L1140.45 1890.75Z" fill="#0030FF"/>
<path d="M757.47 2142.8L821.3 2112.2L885.13 2086.8L948.96 2081.2L1012.79 2112.4L1140.45 2104.8" stroke="#FF0000" stroke-width="3" fill="none" stroke-dasharray="11.7 11.5" stroke-dashoffset="0"/>
<path d="M757.47 2110.3V2175.3M752.67 2110.3H762.27M752.67 2175.3H762.27" stroke="#FF0000" stroke-width="1.7" fill="none"/>
<path d="M821.3 2095.8V2128.6M816.5 2095.8H826.1M816.5 2128.6H826.1" stroke="#FF0000" stroke-width="1.7" fill="none"/>
<path d="M885.13 2068.2V2105.4M880.33 2068.2H889.93M880.33 2105.4H889.93" stroke="#FF0000" stroke-width="1.7" fill="none"/>
<path d="M948.96 2068.5V2093.9M944.16 2068.5H953.76M944.16 2093.9H953.76" stroke="#FF0000" stroke-width="1.7" fill="none"/>
<path d="M1012.79 2102.1V2122.7M1007.99 2102.1H1017.59M1007.99 2122.7H1017.59" stroke="#FF0000" stroke-width="1.7" fill="none"/>
<path d="M1140.45 2094.7V2114.9M1135.65 2094.7H1145.25M1135.65 2114.9H1145.25" stroke="#FF0000" stroke-width="1.7" fill="none"/>
<path d="M748.47 2151.25H766.47L757.47 2134.35Z" fill="#FF0000"/>
<path d="M812.3 2120.65H830.3L821.3 2103.75Z" fill="#FF0000"/>
<path d="M876.13 2095.25H894.13L885.13 2078.35Z" fill="#FF0000"/>
<path d="M939.96 2089.65H957.96L948.96 2072.75Z" fill="#FF0000"/>
<path d="M1003.79 2120.85H1021.79L1012.79 2103.95Z" fill="#FF0000"/>
<path d="M1131.45 2113.25H1149.45L1140.45 2096.35Z" fill="#FF0000"/>
<rect x="183.2" y="935" width="1084.8" height="672.7" fill="none" stroke="#000" stroke-width="1.6"/>
<rect x="183.2" y="1623.8" width="1084.8" height="649.4" fill="none" stroke="#000" stroke-width="1.6"/>
<text x="168.9" y="1622.1" font-size="46" text-anchor="end" font-family='"Liberation Serif", serif' >0</text>
<text x="168.9" y="1513.3" font-size="46" text-anchor="end" font-family='"Liberation Serif", serif' >1</text>
<text x="168.9" y="1399.8" font-size="46" text-anchor="end" font-family='"Liberation Serif", serif' >2</text>
<text x="168.9" y="1286.8" font-size="46" text-anchor="end" font-family='"Liberation Serif", serif' >3</text>
<text x="168.9" y="1175.4" font-size="46" text-anchor="end" font-family='"Liberation Serif", serif' >4</text>
<text x="168.9" y="1064.6" font-size="46" text-anchor="end" font-family='"Liberation Serif", serif' >5</text>
<text x="168.9" y="949.2" font-size="46" text-anchor="end" font-family='"Liberation Serif", serif' >6</text>
<text transform="translate(169.3,2291.9) scale(0.955,1)" font-size="46" text-anchor="end" font-family='"Liberation Serif", serif'>5.5</text>
<text x="168.9" y="2202.4" font-size="46" text-anchor="end" font-family='"Liberation Serif", serif' >6</text>
<text transform="translate(169.3,2119.1) scale(0.955,1)" font-size="46" text-anchor="end" font-family='"Liberation Serif", serif'>6.5</text>
<text x="168.9" y="2032.9" font-size="46" text-anchor="end" font-family='"Liberation Serif", serif' >7</text>
<text transform="translate(169.3,1949.5) scale(0.955,1)" font-size="46" text-anchor="end" font-family='"Liberation Serif", serif'>7.5</text>
<text x="168.9" y="1860.2" font-size="46" text-anchor="end" font-family='"Liberation Serif", serif' >8</text>
<text transform="translate(169.3,1779.2) scale(0.955,1)" font-size="46" text-anchor="end" font-family='"Liberation Serif", serif'>8.5</text>
<text x="168.9" y="1690.3" font-size="46" text-anchor="end" font-family='"Liberation Serif", serif' >9</text>
<text transform="translate(247.03,2316.2) scale(0.98,1)" font-size="46" text-anchor="middle" font-family='"Liberation Serif", serif'>110</text>
<text transform="translate(374.69,2316.2) scale(0.98,1)" font-size="46" text-anchor="middle" font-family='"Liberation Serif", serif'>112</text>
<text transform="translate(502.35,2316.2) scale(0.98,1)" font-size="46" text-anchor="middle" font-family='"Liberation Serif", serif'>114</text>
<text transform="translate(630.01,2316.2) scale(0.98,1)" font-size="46" text-anchor="middle" font-family='"Liberation Serif", serif'>116</text>
<text transform="translate(757.67,2316.2) scale(0.98,1)" font-size="46" text-anchor="middle" font-family='"Liberation Serif", serif'>118</text>
<text transform="translate(885.33,2316.2) scale(0.98,1)" font-size="46" text-anchor="middle" font-family='"Liberation Serif", serif'>120</text>
<text transform="translate(1012.99,2316.2) scale(0.98,1)" font-size="46" text-anchor="middle" font-family='"Liberation Serif", serif'>122</text>
<text transform="translate(1140.65,2316.2) scale(0.98,1)" font-size="46" text-anchor="middle" font-family='"Liberation Serif", serif'>124</text>
<text transform="translate(1268.31,2316.2) scale(0.98,1)" font-size="46" text-anchor="middle" font-family='"Liberation Serif", serif'>126</text>
<text x="1192.9" y="997.7" font-size="52" text-anchor="start" font-family='"Liberation Serif", serif' >(a)</text>
<text x="1193.3" y="1688.8" font-size="52" text-anchor="start" font-family='"Liberation Serif", serif' >(b)</text>
<text transform="translate(68.9,1269.5) rotate(-90)" text-anchor="middle" font-family='"Liberation Serif", serif' font-size="46">TRK (%)</text>
<text transform="translate(59.9,2189) rotate(-90)" font-family='"Liberation Serif", serif' font-size="45.5">Centroid energy E<tspan font-size="33" dy="22.8">c</tspan><tspan dy="-22.8"> (MeV)</tspan></text>
<text x="722" y="2377" font-size="46" text-anchor="middle" font-family='"Liberation Serif", serif' >A</text>
<path d="M273.3 972.6V1002.4M265.1 972.6H281.5M265.1 1002.4H281.5" stroke="#0030FF" stroke-width="1.7" fill="none"/>
<rect x="266.1" y="980.3" width="14.4" height="14.4" fill="#0030FF"/>
<text x="330" y="997.1" font-size="47.8" text-anchor="start" font-family='"Liberation Serif", serif' >Total low-lying E1 (4 - 10 MeV)</text>
<path d="M273.3 1022.2V1029.3M273.3 1045.3V1052.4M265.1 1022.2H281.5M265.1 1052.4H281.5" stroke="#0066CC" stroke-width="1.7" fill="none"/>
<rect x="266.1" y="1030.1" width="14.4" height="14.4" fill="none" stroke="#0066CC" stroke-width="1.7"/>
<text x="330" y="1046.5" font-size="47.6" text-anchor="start" font-family='"Liberation Serif", serif' >IVGDR (4 - 10 MeV)</text>
<path d="M273.3 1072V1102M265.1 1072H281.5M265.1 1102H281.5" stroke="#CC33FF" stroke-width="1.7" fill="none"/>
<path d="M264.3 1078.55H282.3L273.3 1095.45Z" fill="#CC33FF"/>
<text x="330" y="1095.5" font-size="47.6" text-anchor="start" font-family='"Liberation Serif", serif' >Peak 1 (Gauss)</text>
<path d="M273.3 1122V1152M265.1 1122H281.5M265.1 1152H281.5" stroke="#FF0000" stroke-width="1.7" fill="none"/>
<path d="M264.3 1145.45H282.3L273.3 1128.55Z" fill="#FF0000"/>
<text x="330" y="1145.4" font-size="47.6" text-anchor="start" font-family='"Liberation Serif", serif' >Peak 2 (Gauss)</text>
<path d="M320.8 1925.6V1962.2M313.1 1925.6H328.5M313.1 1962.2H328.5" stroke="#0030FF" stroke-width="1.7" fill="none"/>
<path d="M311.8 1935.45H329.8L320.8 1952.35Z" fill="#0030FF"/>
<text x="377" y="1956.9" font-size="47.6" text-anchor="start" font-family='"Liberation Serif", serif' >2 Peaks (avg.)</text>
<path d="M320.8 1986.8V2023.6M313.1 1986.8H328.5M313.1 2023.6H328.5" stroke="#CC33FF" stroke-width="1.7" fill="none"/>
<rect x="313.6" y="1998" width="14.4" height="14.4" fill="#CC33FF"/>
<text x="377" y="2017.8" font-size="47.6" text-anchor="start" font-family='"Liberation Serif", serif' >Peak 1 (Gauss)</text>
<path d="M320.8 2047.8V2084.6M313.1 2047.8H328.5M313.1 2084.6H328.5" stroke="#FF0000" stroke-width="1.7" fill="none"/>
<path d="M311.8 2074.65H329.8L320.8 2057.75Z" fill="#FF0000"/>
<text x="377" y="2079.1" font-size="47.6" text-anchor="start" font-family='"Liberation Serif", serif' >Peak 2 (Gauss)</text>
</svg>
</body></html>
